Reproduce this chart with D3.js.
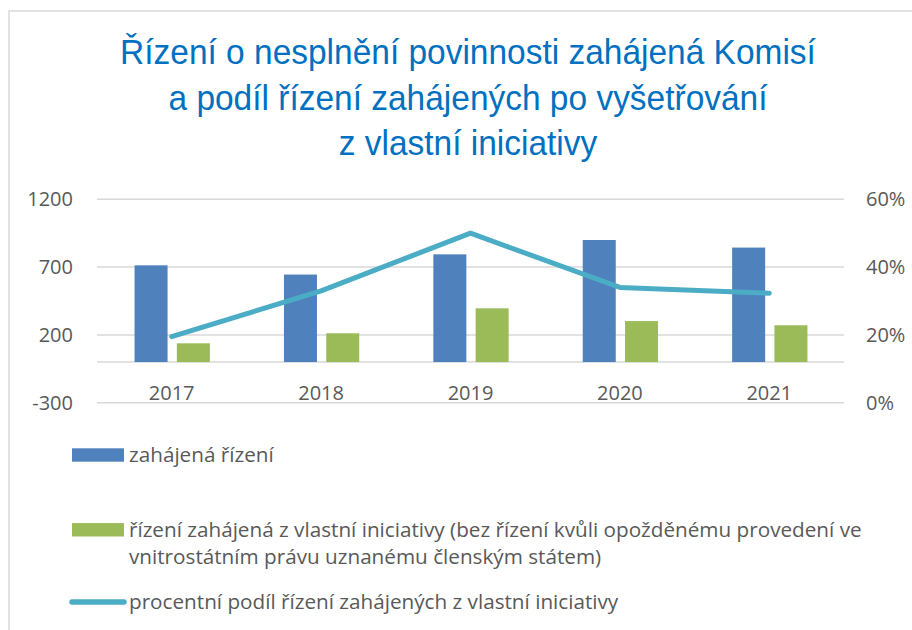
<!DOCTYPE html>
<html>
<head>
<meta charset="utf-8">
<script src="https://cdn.jsdelivr.net/npm/d3@7"></script>
<style>
  body { margin: 0; background: #fff; }
  svg { display: block; }
</style>
</head>
<body>
<svg id="chart" width="912" height="630"></svg>
<script>
// Données du graphique
const years = ["2017", "2018", "2019", "2020", "2021"];
const zahajena = [713, 645, 794, 900, 844];
const zVlastni = [138, 212, 396, 302, 271];
const podil = [19.5, 33, 50, 34, 32.3];
const leftTicks = [-300, 200, 700, 1200];
const rightTicks = [0, 20, 40, 60];
const titleLines = [
  "Řízení o nesplnění povinnosti zahájená Komisí",
  "a podíl řízení zahájených po vyšetřování",
  "z vlastní iniciativy"
];
const legendItems = [
  { type: "bar", color: "#4F81BD", lines: ["zahájená řízení"] },
  { type: "bar", color: "#9BBB59", lines: ["řízení zahájená z vlastní iniciativy (bez řízení kvůli opožděnému provedení ve", "vnitrostátním právu uznanému členským státem)"] },
  { type: "line", color: "#4BACC6", lines: ["procentní podíl řízení zahájených z vlastní iniciativy"] }
];

const svg = d3.select("#chart");
const labelFont = "'Open Sans', 'Noto Sans', sans-serif";

// Cadre du graphique
svg.append("path")
    .attr("d", "M9,640 L9,11 L920,11")
    .attr("fill", "none")
    .attr("stroke", "#d9d9d9")
    .attr("stroke-width", 1.5);

// Titre (police un peu resserrée comme l'original)
svg.append("g")
    .attr("transform", "translate(468,0) scale(0.93,1)")
  .selectAll("text")
    .data(titleLines)
    .enter().append("text")
    .attr("x", 0)
    .attr("y", (d, i) => 64 + i * 45.6)
    .attr("text-anchor", "middle")
    .style("font-family", "'Liberation Sans', Arial, sans-serif")
    .style("font-size", "36px")
    .style("fill", "#0070C0")
    .text(d => d);

// Échelles
const x0 = d3.scaleBand().domain(years).range([97, 844]);
const y = d3.scaleLinear().domain([-300, 1200]).range([402.7, 199.3]);
const yPct = d3.scaleLinear().domain([0, 60]).range([402.7, 199.3]);

// Quadrillage
svg.append("g").selectAll("line")
    .data(leftTicks.concat([0]))
    .enter().append("line")
    .attr("x1", 97).attr("x2", 844)
    .attr("y1", d => y(d)).attr("y2", d => y(d))
    .attr("stroke", "#d9d9d9")
    .attr("stroke-width", 1.5);

// Axe gauche
const axisLeft = svg.append("g")
    .attr("transform", "translate(97,0)")
    .call(d3.axisLeft(y).tickValues(leftTicks).tickSize(0).tickPadding(24).tickFormat(d => String(d)));
axisLeft.select(".domain").remove();
axisLeft.selectAll("text")
    .style("font-family", labelFont)
    .style("font-size", "20px")
    .style("fill", "#595959");

// Axe droit
const axisRight = svg.append("g")
    .attr("transform", "translate(844,0)")
    .call(d3.axisRight(yPct).tickValues(rightTicks).tickSize(0).tickPadding(22).tickFormat(d => d + "%"));
axisRight.select(".domain").remove();
axisRight.selectAll("text")
    .style("font-family", labelFont)
    .style("font-size", "20px")
    .style("fill", "#595959");

// Étiquettes des catégories
svg.append("g").selectAll("text")
    .data(years)
    .enter().append("text")
    .attr("x", d => x0(d) + x0.bandwidth() / 2)
    .attr("y", 400)
    .attr("text-anchor", "middle")
    .style("font-family", labelFont)
    .style("font-size", "20px")
    .style("fill", "#595959")
    .text(d => d);

// Barres
const barW = 33;
const gap = 9.3;
const bars = svg.append("g");
bars.selectAll(".blue")
    .data(zahajena)
    .enter().append("rect")
    .attr("class", "blue")
    .attr("x", (d, i) => x0(years[i]) + x0.bandwidth() / 2 - barW - gap / 2 + 0.5)
    .attr("y", d => y(d))
    .attr("width", barW)
    .attr("height", d => y(0) - y(d))
    .attr("fill", "#4F81BD");
bars.selectAll(".green")
    .data(zVlastni)
    .enter().append("rect")
    .attr("class", "green")
    .attr("x", (d, i) => x0(years[i]) + x0.bandwidth() / 2 + gap / 2 + 0.5)
    .attr("y", d => y(d))
    .attr("width", barW)
    .attr("height", d => y(0) - y(d))
    .attr("fill", "#9BBB59");

// Ligne du pourcentage
const line = d3.line()
    .x((d, i) => x0(years[i]) + x0.bandwidth() / 2)
    .y(d => yPct(d));
svg.append("path")
    .datum(podil)
    .attr("d", line)
    .attr("fill", "none")
    .attr("stroke", "#4BACC6")
    .attr("stroke-width", 5)
    .attr("stroke-linecap", "round")
    .attr("stroke-linejoin", "round");

// Légende (y = ligne de base du texte)
const legendY = [461.7, 536.5, 608.5];
const legend = svg.append("g").selectAll("g")
    .data(legendItems)
    .enter().append("g")
    .attr("transform", (d, i) => `translate(0,${legendY[i]})`);

legend.filter(d => d.type === "bar").append("rect")
    .attr("x", 72).attr("y", -13.4)
    .attr("width", 52).attr("height", 13.4)
    .attr("fill", d => d.color);
legend.filter(d => d.type === "line").append("line")
    .attr("x1", 72).attr("x2", 124)
    .attr("y1", -6.5).attr("y2", -6.5)
    .attr("stroke", d => d.color)
    .attr("stroke-width", 5.5)
    .attr("stroke-linecap", "round");

legend.each(function(d) {
  d3.select(this).selectAll("text")
    .data(d.lines)
    .enter().append("text")
    .attr("x", 129)
    .attr("y", (t, j) => j * 27)
    .style("font-family", labelFont)
    .style("font-size", "20.7px")
    .style("fill", "#595959")
    .text(t => t);
});
</script>
</body>
</html>
